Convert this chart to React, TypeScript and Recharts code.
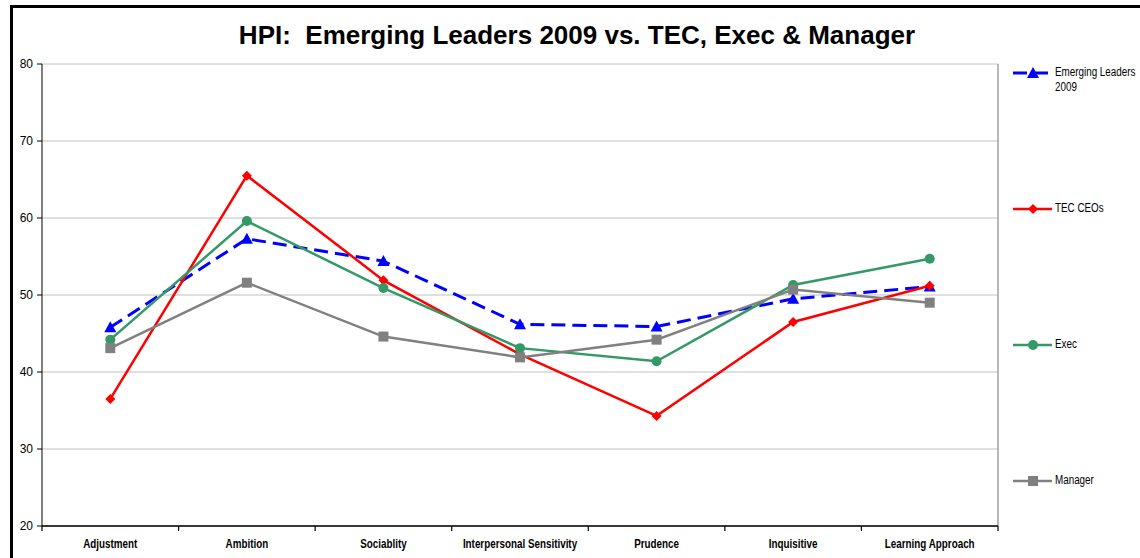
import React from 'react';
import { LineChart, Line, XAxis, YAxis, CartesianGrid, ReferenceLine } from 'recharts';

const categories = ['Adjustment', 'Ambition', 'Sociablity', 'Interpersonal Sensitivity', 'Prudence', 'Inquisitive', 'Learning Approach'];
const emergingLeaders = [45.8, 57.3, 54.4, 46.2, 45.9, 49.5, 51.1];
const tecCeos = [36.5, 65.5, 51.9, 42.3, 34.3, 46.5, 51.2];
const execValues = [44.2, 59.6, 50.9, 43.1, 41.4, 51.3, 54.7];
const managerValues = [43.1, 51.6, 44.6, 41.9, 44.2, 50.7, 49.0];
const yTicks = [20, 30, 40, 50, 60, 70, 80];
const boundaryTicks = [0, 1, 2, 3, 4, 5, 6, 7];

const data = categories.map((c, i) => ({
  cat: c,
  slot: i + 0.5,
  emerging: emergingLeaders[i],
  tec: tecCeos[i],
  exec: execValues[i],
  manager: managerValues[i],
}));

type Shape = 'triangle' | 'diamond' | 'circle' | 'square';
const series: { key: string; name: string[]; color: string; dash?: string; width: number; shape: Shape }[] = [
  { key: 'emerging', name: ['Emerging Leaders', '2009'], color: '#0000FF', dash: '14 7', width: 3, shape: 'triangle' },
  { key: 'tec', name: ['TEC CEOs'], color: '#FF0000', width: 2.5, shape: 'diamond' },
  { key: 'exec', name: ['Exec'], color: '#339966', width: 2.5, shape: 'circle' },
  { key: 'manager', name: ['Manager'], color: '#808080', width: 2.5, shape: 'square' },
];

const Marker = ({ shape, cx, cy, color }: { shape: Shape; cx: number; cy: number; color: string }) => {
  if (cx == null || cy == null) return null;
  switch (shape) {
    case 'triangle':
      return <polygon points={`${cx},${cy - 6} ${cx + 6},${cy + 5} ${cx - 6},${cy + 5}`} fill={color} />;
    case 'diamond':
      return <polygon points={`${cx},${cy - 5} ${cx + 5},${cy} ${cx},${cy + 5} ${cx - 5},${cy}`} fill={color} />;
    case 'circle':
      return <circle cx={cx} cy={cy} r={5} fill={color} />;
    default:
      return <rect x={cx - 5} y={cy - 5} width={10} height={10} fill={color} />;
  }
};

const sans = "'Liberation Sans', Arial, sans-serif";

const CategoryTick = (props: any) => {
  const { x, y, payload } = props;
  return (
    <g transform={`translate(${x},${y}) scale(0.82,1)`}>
      <text x={0} y={0} dy={4} textAnchor="middle" fontFamily={sans} fontWeight="bold" fontSize={12} fill="#000">
        {payload.value}
      </text>
    </g>
  );
};

const legendTops = [73, 209, 345, 481];

export default function App() {
  return (
    <div style={{ position: 'absolute', left: 0, top: 0, width: 1140, height: 558, background: '#fff', overflow: 'hidden' }}>
      <div style={{ position: 'absolute', left: 10, top: 5, width: 1200, height: 600, border: '3px solid #000', boxSizing: 'border-box' }} />
      <div
        style={{
          position: 'absolute', left: 0, top: 20, width: 1154, textAlign: 'center',
          fontFamily: sans, fontWeight: 'bold', fontSize: 26, whiteSpace: 'pre', color: '#000',
        }}
      >
        {'HPI:  Emerging Leaders 2009 vs. TEC, Exec & Manager'}
      </div>
      <div style={{ position: 'absolute', left: 0, top: 0 }}>
        <LineChart width={1140} height={558} data={data} margin={{ top: 64, right: 142, left: 0, bottom: 2 }}>
          <CartesianGrid horizontal vertical={false} stroke="#c0c0c0" strokeWidth={1} />
          <XAxis
            dataKey="cat"
            scale="band"
            tickLine={false}
            axisLine={{ stroke: '#000', strokeWidth: 1.5 }}
            interval={0}
            height={30}
            tick={<CategoryTick />}
            tickMargin={12}
          />
          <XAxis
            xAxisId="b"
            dataKey="slot"
            type="number"
            domain={[0, 7]}
            allowDataOverflow
            ticks={boundaryTicks}
            interval={0}
            tickFormatter={() => ''}
            mirror
            tickSize={-5}
            axisLine={false}
            tickLine={{ stroke: '#000', strokeWidth: 1.2 }}
            height={1}
          />
          <YAxis
            domain={[20, 80]}
            ticks={yTicks}
            width={42}
            tickSize={5}
            tickMargin={4}
            axisLine={{ stroke: '#000' }}
            tickLine={{ stroke: '#000' }}
            tick={{ fontFamily: sans, fontSize: 12, fill: '#000' }}
          />
          <ReferenceLine xAxisId="b" x={7} stroke="#a0a0a0" strokeWidth={1.5} />
          {series.map((s) => (
            <Line
              key={s.key}
              dataKey={s.key}
              stroke={s.color}
              strokeWidth={s.width}
              strokeDasharray={s.dash}
              isAnimationActive={false}
              dot={(p: any) => <Marker key={`${s.key}-${p.index}`} shape={s.shape} cx={p.cx} cy={p.cy} color={s.color} />}
              activeDot={false}
            />
          ))}
        </LineChart>
      </div>
      {series.map((s, i) => (
        <div key={s.key} style={{ position: 'absolute', left: 1012, top: legendTops[i] - 8 }}>
          <svg width={42} height={16} style={{ position: 'absolute', left: 0, top: 0 }}>
            <line x1={1} y1={8} x2={40} y2={8} stroke={s.color} strokeWidth={s.width} strokeDasharray={s.dash} />
            <Marker shape={s.shape} cx={21} cy={8} color={s.color} />
          </svg>
          <div
            style={{
              position: 'absolute', left: 43, top: 0, fontFamily: sans, fontSize: 12, lineHeight: '15px', color: '#000',
              whiteSpace: 'nowrap', transform: 'scaleX(0.82)', transformOrigin: 'left top',
            }}
          >
            {s.name.map((n, j) => (<div key={j}>{n}</div>))}
          </div>
        </div>
      ))}
    </div>
  );
}
